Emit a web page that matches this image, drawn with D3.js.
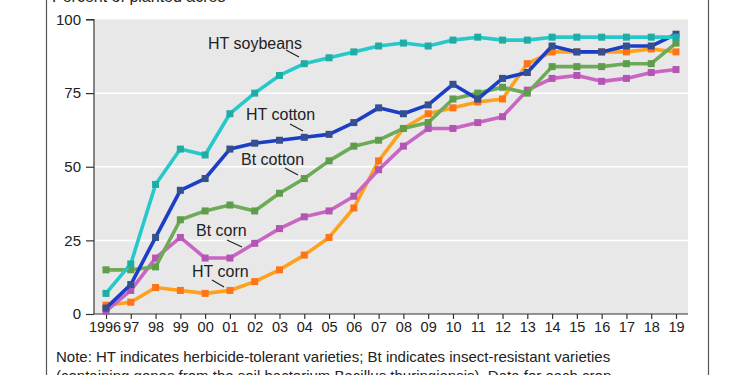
<!DOCTYPE html>
<html>
<head>
<meta charset="utf-8">
<script src="https://cdnjs.cloudflare.com/ajax/libs/d3/7.8.5/d3.min.js"></script>
<style>
  html, body { margin: 0; padding: 0; background: #fff; }
  svg { display: block; font-family: "Liberation Sans", Arial, sans-serif; }
</style>
</head>
<body>
<svg id="chart" width="750" height="375"></svg>
<script>
const years = [1996,1997,1998,1999,2000,2001,2002,2003,2004,2005,2006,2007,2008,2009,2010,2011,2012,2013,2014,2015,2016,2017,2018,2019];
const yearLabels = ["1996","97","98","99","00","01","02","03","04","05","06","07","08","09","10","11","12","13","14","15","16","17","18","19"];
const yTicks = [0, 25, 50, 75, 100];

const htCorn     = [3,4,9,8,7,8,11,15,20,26,36,52,63,68,70,72,73,85,89,89,89,89,90,89];
const btCorn     = [1,8,19,26,19,19,24,29,33,35,40,49,57,63,63,65,67,76,80,81,79,80,82,83];
const btCotton   = [15,15,16,32,35,37,35,41,46,52,57,59,63,65,73,75,77,75,84,84,84,85,85,92];
const htCotton   = [2,10,26,42,46,56,58,59,60,61,65,70,68,71,78,73,80,82,91,89,89,91,91,95];
const htSoybeans = [7,17,44,56,54,68,75,81,85,87,89,91,92,91,93,94,93,93,94,94,94,94,94,94];

const seriesNames = ["HT corn","Bt corn","Bt cotton","HT cotton","HT soybeans"];
const seriesValues = [htCorn, btCorn, btCotton, htCotton, htSoybeans];
const lineColors = ["#ffa01e","#c866c2","#6eab58","#1b3ec6","#25c9c9"];
const markColors = ["#ff7416","#b455b4","#5f9c4c","#34508e","#20aba4"];

const svg = d3.select("#chart");
const x = d3.scaleLinear().domain([1996, 2019]).range([106, 676]);
const y = d3.scaleLinear().domain([0, 100]).range([314, 19.5]);

// outer frame
svg.append("line").attr("x1",46.5).attr("x2",46.5).attr("y1",0).attr("y2",375).attr("stroke","#555").attr("stroke-width",1.2);
svg.append("line").attr("x1",708.5).attr("x2",708.5).attr("y1",0).attr("y2",375).attr("stroke","#555").attr("stroke-width",1.2);

// title
svg.append("text").attr("x",52).attr("y",2).attr("font-size",16).attr("fill","#222").text("Percent of planted acres");

// plot background
svg.append("rect").attr("x",95).attr("y",y(100)).attr("width",688-95).attr("height",y(0)-y(100)).attr("fill","#e9e8e9");

// gridlines
svg.append("g").selectAll("line").data([25,50,75]).join("line")
  .attr("x1",95).attr("x2",688).attr("y1",d=>y(d)).attr("y2",d=>y(d))
  .attr("stroke","#fff").attr("stroke-width",1.5);

// y axis
const yAxis = d3.axisLeft(y).tickValues(yTicks).tickSize(8).tickPadding(5).tickFormat(d3.format("d"));
const gy = svg.append("g").attr("transform","translate(94,0)").call(yAxis);
gy.select(".domain").attr("stroke","#333").attr("stroke-width",1.2).attr("d", `M-8,${y(100)}H0V${y(0)}`);
gy.selectAll(".tick line").attr("stroke","#333").attr("stroke-width",1.2);
gy.selectAll(".tick text").attr("font-size",15).attr("fill","#222").attr("font-family","Liberation Sans, Arial, sans-serif");

// x axis
const xAxis = d3.axisBottom(x).tickValues(years).tickSize(5).tickPadding(3).tickFormat((d,i)=>yearLabels[i]);
const gx = svg.append("g").attr("transform",`translate(0,${y(0)})`).call(xAxis);
gx.select(".domain").attr("stroke","#333").attr("stroke-width",1.2).attr("d","M94,0H688");
gx.selectAll(".tick line").attr("stroke","#333").attr("stroke-width",1.2);
gx.selectAll(".tick text").attr("font-size",14.5).attr("fill","#222").attr("font-family","Liberation Sans, Arial, sans-serif");
gx.selectAll(".tick text").filter((d,i)=>i===0).attr("dx",-1.5);

// lines
const line = d3.line().x((d,i)=>x(years[i])).y(d=>y(d));
seriesValues.forEach((vals, si) => {
  const g = svg.append("g");
  g.append("path").attr("d", line(vals)).attr("fill","none")
    .attr("stroke", lineColors[si]).attr("stroke-width",3.6).attr("stroke-linejoin","round");
  g.selectAll("rect").data(vals).join("rect")
    .attr("x",(d,i)=>x(years[i])-3.5).attr("y",d=>y(d)-3.5)
    .attr("width",7).attr("height",7).attr("fill",markColors[si]);
});

// series labels with leaders
const labels = [
  {t:"HT soybeans", x:208, y:49, l:[286,50,299,57]},
  {t:"HT cotton",   x:246, y:120, l:[290,124,303,131]},
  {t:"Bt cotton",   x:241, y:165, l:[285,168,298,175]},
  {t:"Bt corn",     x:196, y:236, l:[227,240,242,247]},
  {t:"HT corn",     x:192, y:277, l:[212,280,224,287]}
];
labels.forEach(L => {
  svg.append("text").attr("x",L.x).attr("y",L.y).attr("font-size",16).attr("fill","#222").text(L.t);
  svg.append("line").attr("x1",L.l[0]).attr("y1",L.l[1]).attr("x2",L.l[2]).attr("y2",L.l[3])
    .attr("stroke","#222").attr("stroke-width",1.2);
});

// note
svg.append("text").attr("x",56).attr("y",362).attr("font-size",15).attr("fill","#222")
  .text("Note: HT indicates herbicide-tolerant varieties; Bt indicates insect-resistant varieties");
svg.append("text").attr("x",56).attr("y",381).attr("font-size",15).attr("fill","#222")
  .text("(containing genes from the soil bacterium Bacillus thuringiensis). Data for each crop");
</script>
</body>
</html>
